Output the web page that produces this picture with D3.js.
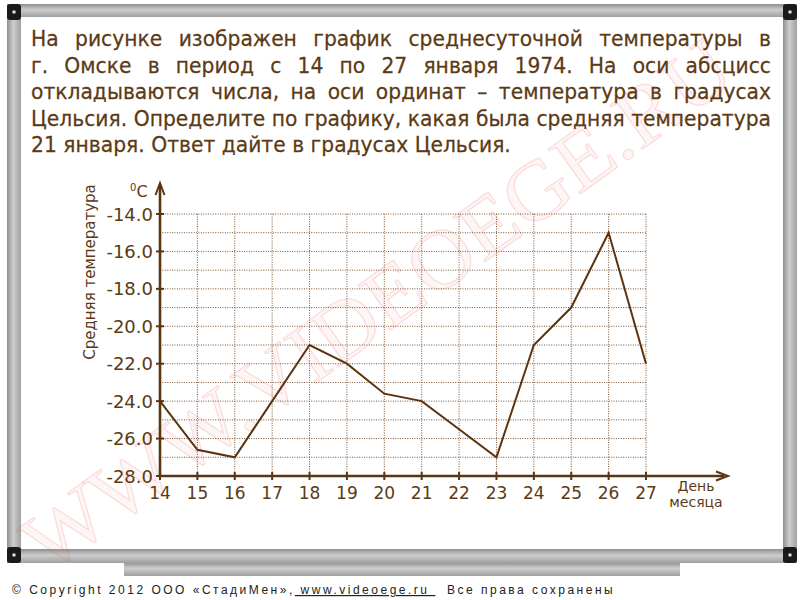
<!DOCTYPE html>
<html><head><meta charset="utf-8">
<script src="https://cdn.jsdelivr.net/npm/d3@7"></script>
<style>body{margin:0;background:#fff}svg{display:block}</style>
</head><body>
<svg id="c" width="800" height="600"></svg>
<script>
// ---- data ----
const days = [14,15,16,17,18,19,20,21,22,23,24,25,26,27];
const temps = [-24,-26.6,-27,-24,-21,-22,-23.6,-24,-25.5,-27,-21,-19,-15,-22];
const yTicks = [-28,-26,-24,-22,-20,-18,-16,-14];
const titleLines = [
 "На рисунке изображен график среднесуточной температуры в",
 "г. Омске в период с 14 по 27 января 1974. На оси абсцисс",
 "откладываются числа, на оси ординат – температура в градусах",
 "Цельсия. Определите по графику, какая была средняя температура",
 "21 января. Ответ дайте в градусах Цельсия."
];
const yTitle = "Средняя температура";
const xTitle = ["День","месяца"];
const footerParts = ["© Copyright 2012 ООО «СтадиМен»,", " www.videoege.ru ", "  Все права сохранены"];
const watermark = "WWW.VIDEOEGE.RU";

const svg = d3.select("#c");
const brown = "#5a3512";
const textBrown = "#5b3a14";
const defs = svg.append("defs");

// ---- whiteboard frame ----
function grad(id, vertical){
  const g = defs.append("linearGradient").attr("id",id)
    .attr("x1",0).attr("y1",0).attr("x2",vertical?1:0).attr("y2",vertical?0:1);
  g.append("stop").attr("offset","0").attr("stop-color","#8f8f8f");
  g.append("stop").attr("offset","0.45").attr("stop-color","#cdcdcd");
  g.append("stop").attr("offset","1").attr("stop-color","#a0a0a0");
}
grad("gv",true); grad("gh",false);

svg.append("rect").attr("x",7).attr("y",4).attr("width",790).attr("height",559).attr("fill","#fff");
svg.append("rect").attr("x",124).attr("y",562).attr("width",556).attr("height",14).attr("fill","url(#gh)");
svg.append("rect").attr("x",7).attr("y",4).attr("width",790).attr("height",13).attr("fill","url(#gh)");
svg.append("rect").attr("x",7).attr("y",549).attr("width",790).attr("height",14).attr("fill","url(#gh)");
svg.append("rect").attr("x",7).attr("y",4).attr("width",14).attr("height",559).attr("fill","url(#gv)");
svg.append("rect").attr("x",783).attr("y",4).attr("width",14).attr("height",559).attr("fill","url(#gv)");
[[7,4],[783,4],[7,547],[783,547]].forEach(([cx,cy])=>{
  svg.append("rect").attr("x",cx).attr("y",cy).attr("width",14).attr("height",16).attr("rx",3).attr("fill","#1a1a1a");
  svg.append("circle").attr("cx",cx+7).attr("cy",cy+8).attr("r",1.8).attr("fill","#ddd");
});

// ---- watermark ----
svg.append("text")
  .attr("transform","translate(382,312) rotate(-35.6)")
  .attr("text-anchor","middle").attr("dominant-baseline","middle")
  .attr("font-family","Liberation Serif, serif").attr("font-size",84)
  .attr("textLength",850).attr("lengthAdjust","spacingAndGlyphs")
  .attr("fill","rgba(240,120,120,0.07)").attr("stroke","rgba(235,100,100,0.2)").attr("stroke-width",1.2)
  .text(watermark);

// ---- title (justified) ----
const left = 31, right = 771, base0 = 46.5, lh = 26.4, fs = 21.5;
const tg = svg.append("g").attr("font-family","DejaVu Sans, Verdana, sans-serif")
  .attr("font-size",fs).attr("fill",textBrown).attr("stroke",textBrown).attr("stroke-width",0.25);
const probe = tg.append("text").text(titleLines[3].replace(/ /g,""));
const w4 = probe.node().getComputedTextLength();
probe.remove();
const k = Math.min(1, (right-left-7*6.5)/w4);
const inner = tg.append("g").attr("transform",`translate(${left},0) scale(${k},1)`);
const W = (right-left)/k;
titleLines.forEach((line,i)=>{
  const words = line.split(" ");
  const yy = base0 + i*lh;
  const nodes = words.map(w => inner.append("text").attr("y",yy).text(w));
  const widths = nodes.map(n => n.node().getComputedTextLength());
  const sum = d3.sum(widths);
  const last = i === titleLines.length-1;
  const gap = last ? 6.5/k : (W-sum)/(words.length-1);
  let xx = 0;
  nodes.forEach((n,j)=>{ n.attr("x",xx); xx += widths[j] + gap; });
});

// ---- chart ----
const x = d3.scaleLinear().domain([14,27]).range([160,646]);
const y = d3.scaleLinear().domain([-28,-14]).range([476,214]);
const grid = svg.append("g").attr("stroke","#7d5330").attr("stroke-width",1).attr("stroke-dasharray","1,1.4");
d3.range(-27,-13).forEach(v=>{
  grid.append("line").attr("x1",x(14)).attr("x2",x(27)).attr("y1",y(v)).attr("y2",y(v));
});
days.slice(1).forEach(d=>{
  grid.append("line").attr("x1",x(d)).attr("x2",x(d)).attr("y1",y(-14)).attr("y2",y(-28));
});

const ax = svg.append("g").attr("stroke",brown).attr("stroke-width",2.6).attr("fill","none");
ax.append("line").attr("x1",x(14)).attr("x2",x(14)).attr("y1",y(-28)+1).attr("y2",186);
ax.append("line").attr("x1",x(14)-1).attr("x2",724).attr("y1",y(-28)).attr("y2",y(-28));
ax.append("path").attr("d",`M${x(14)-4.5},195 L${x(14)},183 L${x(14)+4.5},195`).attr("stroke-width",2);
ax.append("path").attr("d",`M716,${y(-28)-4.5} L728,${y(-28)} L716,${y(-28)+4.5}`).attr("stroke-width",2);
yTicks.forEach(v=>{
  ax.append("line").attr("x1",x(14)-4).attr("x2",x(14)+4).attr("y1",y(v)).attr("y2",y(v)).attr("stroke-width",2);
});
days.forEach(d=>{
  ax.append("line").attr("x1",x(d)).attr("x2",x(d)).attr("y1",y(-28)-4).attr("y2",y(-28)+4).attr("stroke-width",2);
});

const lab = svg.append("g").attr("font-family","DejaVu Sans, Verdana, sans-serif").attr("fill",textBrown);
yTicks.forEach(v=>{
  lab.append("text").attr("x",153).attr("y",y(v)+6.5).attr("text-anchor","end").attr("font-size",18)
    .text(v.toFixed(1));
});
days.forEach(d=>{
  lab.append("text").attr("x",x(d)).attr("y",499).attr("text-anchor","middle").attr("font-size",17).text(d);
});
lab.append("text").attr("transform","translate(95,272) rotate(-90)").attr("text-anchor","middle")
  .attr("font-size",15).text(yTitle);
const cl = lab.append("text").attr("x",130).attr("y",197).attr("font-size",16);
cl.append("tspan").attr("font-size",10).attr("dy",-6).text("0");
cl.append("tspan").attr("dy",6).text("C");
lab.append("text").attr("x",696).attr("y",491).attr("text-anchor","middle").attr("font-size",14).text(xTitle[0]);
lab.append("text").attr("x",696).attr("y",507).attr("text-anchor","middle").attr("font-size",14).text(xTitle[1]);

// data line
const line = d3.line().x((d,i)=>x(days[i])).y(d=>y(d));
svg.append("path").datum(temps).attr("d",line).attr("fill","none").attr("stroke","#5c3311")
  .attr("stroke-width",2).attr("stroke-linejoin","miter");

// footer
const ft = svg.append("text").attr("x",12).attr("y",594).attr("font-family","Liberation Sans, Arial, sans-serif")
  .attr("font-size",12).attr("fill","#222").attr("letter-spacing",2.5).attr("xml:space","preserve")
  .style("white-space","pre");
ft.append("tspan").text(footerParts[0]);
ft.append("tspan").attr("text-decoration","underline").text(footerParts[1]);
ft.append("tspan").text(footerParts[2]);
</script>
</body></html>
